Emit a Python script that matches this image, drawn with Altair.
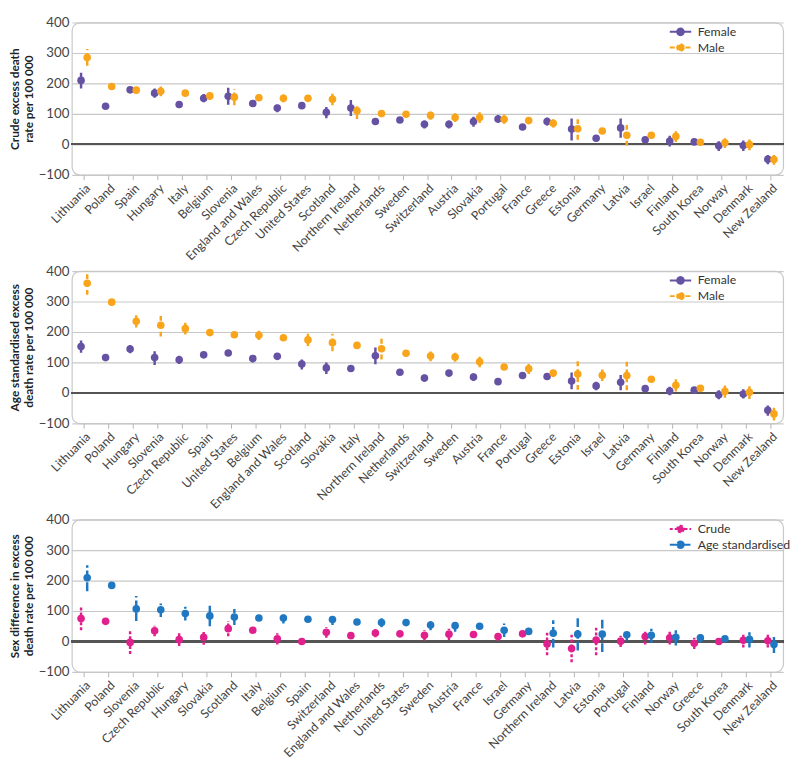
import math
import altair as alt
import pandas as pd

# ---------------- Panel 1: crude excess death rate ----------------
P1_COUNTRIES = ["Lithuania", "Poland", "Spain", "Hungary", "Italy", "Belgium", "Slovenia",
                "England and Wales", "Czech Republic", "United States", "Scotland",
                "Northern Ireland", "Netherlands", "Sweden", "Switzerland", "Austria",
                "Slovakia", "Portugal", "France", "Greece", "Estonia", "Germany", "Latvia",
                "Israel", "Finland", "South Korea", "Norway", "Denmark", "New Zealand"]
P1_FEMALE = [210, 125, 179, 168, 131, 151, 158, 134, 119, 127, 105, 119, 75, 80, 66, 66, 75, 83, 57, 75, 50, 20, 54, 15, 11, 8, -5, -4, -49]
P1_FEMALE_LO = [183, 121, 175, 153, 127, 138, 130, 130, 105, 123, 86, 93, 71, 70, 52, 52, 58, 71, 53, 62, 13, 16, 22, 6, -7, 4, -22, -22, -65]
P1_FEMALE_HI = [235, 129, 183, 183, 135, 165, 186, 138, 130, 131, 123, 146, 79, 90, 78, 78, 91, 96, 61, 88, 85, 24, 85, 23, 28, 12, 10, 13, -35]
P1_MALE = [285, 190, 178, 174, 168, 159, 155, 153, 151, 151, 148, 110, 101, 99, 95, 88, 88, 82, 78, 69, 51, 44, 30, 30, 26, 7, 5, -1, -50]
P1_MALE_LO = [258, 186, 174, 158, 164, 146, 128, 149, 138, 147, 128, 83, 95, 90, 81, 73, 70, 68, 74, 55, 15, 40, -4, 20, 8, 3, -12, -19, -67]
P1_MALE_HI = [313, 194, 182, 190, 172, 172, 182, 157, 165, 155, 166, 135, 107, 108, 108, 102, 105, 98, 82, 83, 88, 48, 65, 40, 43, 11, 20, 16, -35]

# ---------------- Panel 2: age standardised excess death rate ----------------
P2_COUNTRIES = ["Lithuania", "Poland", "Hungary", "Slovenia", "Czech Republic", "Spain",
                "United States", "Belgium", "England and Wales", "Scotland", "Slovakia",
                "Italy", "Northern Ireland", "Netherlands", "Switzerland", "Sweden", "Austria",
                "France", "Portugal", "Greece", "Estonia", "Israel", "Latvia", "Germany",
                "Finland", "South Korea", "Norway", "Denmark", "New Zealand"]
P2_FEMALE = [152, 116, 144, 116, 109, 125, 131, 113, 120, 95, 82, 80, 122, 68, 49, 65, 52, 37, 57, 54, 39, 23, 35, 14, 6, 9, -6, -4, -57]
P2_FEMALE_LO = [132, 112, 130, 92, 95, 121, 127, 100, 116, 77, 62, 76, 94, 64, 37, 54, 39, 33, 47, 44, 12, 9, 9, 10, -8, 5, -21, -18, -75]
P2_FEMALE_HI = [172, 120, 157, 137, 122, 129, 135, 124, 124, 110, 100, 84, 149, 72, 60, 75, 64, 41, 67, 64, 67, 37, 59, 18, 20, 13, 9, 12, -41]
P2_MALE = [360, 298, 235, 222, 211, 198, 191, 189, 181, 174, 165, 156, 145, 130, 121, 118, 102, 85, 79, 65, 62, 58, 57, 45, 25, 15, 5, 2, -69]
P2_MALE_LO = [322, 287, 215, 185, 192, 194, 187, 174, 177, 154, 137, 152, 110, 120, 104, 102, 84, 81, 62, 52, 10, 39, 9, 41, 5, 9, -16, -20, -91]
P2_MALE_HI = [400, 309, 255, 257, 230, 202, 195, 204, 185, 194, 194, 160, 182, 140, 136, 132, 119, 89, 95, 77, 112, 77, 104, 49, 45, 21, 24, 22, -48]

# ---------------- Panel 3: sex difference ----------------
P3_COUNTRIES = ["Lithuania", "Poland", "Slovenia", "Czech Republic", "Hungary", "Slovakia",
                "Scotland", "Italy", "Belgium", "Spain", "Switzerland", "England and Wales",
                "Netherlands", "United States", "Sweden", "Austria", "France", "Israel",
                "Germany", "Northern Ireland", "Latvia", "Estonia", "Portugal", "Finland",
                "Norway", "Greece", "South Korea", "Denmark", "New Zealand"]
P3_CRUDE = [75, 66, -3, 35, 6, 14, 42, 37, 9, 0, 30, 19, 28, 25, 20, 24, 23, 16, 25, -8, -23, 5, 1, 16, 12, -6, 0, 4, 2]
P3_CRUDE_LO = [37, 58, -41, 17, -15, -11, 17, 33, -10, -4, 12, 15, 14, 21, 2, 5, 19, 2, 21, -45, -68, -45, -18, -10, -10, -25, -4, -20, -20]
P3_CRUDE_HI = [114, 74, 37, 52, 27, 37, 67, 41, 27, 4, 47, 23, 42, 29, 37, 42, 27, 29, 29, 29, 24, 52, 19, 37, 32, 12, 4, 25, 22]
P3_AGE = [209, 184, 107, 104, 92, 84, 80, 77, 77, 73, 72, 64, 62, 62, 54, 52, 50, 37, 33, 27, 24, 24, 22, 20, 14, 12, 9, 7, -10]
P3_AGE_LO = [165, 174, 67, 80, 69, 50, 54, 73, 59, 69, 54, 60, 47, 58, 37, 32, 46, 15, 29, -20, -30, -35, 2, -5, -13, -5, 4, -20, -38]
P3_AGE_HI = [250, 193, 149, 125, 114, 117, 107, 81, 94, 77, 90, 68, 77, 66, 72, 70, 54, 59, 37, 70, 77, 79, 39, 42, 37, 27, 14, 30, 15]

PURPLE, ORANGE, PINK, BLUE = "#6652a3", "#f9a51b", "#e0208c", "#1f78c1"
FONT = "Lato"

# legend glyph: a short line with a dot in the middle (dot drawn as a polygon)
_pts = [(0.45 * math.cos(2 * math.pi * k / 16), 0.45 * math.sin(2 * math.pi * k / 16))
        for k in range(16)]
LEGEND_PATH = "M-1.45,0L1.45,0M" + "L".join(f"{px:.3f},{py:.3f}" for px, py in _pts) + "Z"

PLOT_W, PLOT_H = 724, 155


def make_df(countries, a_name, a_val, a_lo, a_hi, b_name, b_val, b_lo, b_hi):
    rows = []
    for i, c in enumerate(countries):
        rows.append(dict(country=c, series=a_name, value=a_val[i], lo=a_lo[i], hi=a_hi[i]))
        rows.append(dict(country=c, series=b_name, value=b_val[i], lo=b_lo[i], hi=b_hi[i]))
    return pd.DataFrame(rows)


def panel(df, countries, names, colors, dashes, title):
    x = alt.X("country:N", sort=countries,
              scale=alt.Scale(domain=countries, paddingInner=0, paddingOuter=0),
              axis=alt.Axis(title=None, labelAngle=-45, grid=False, ticks=True, tickSize=5,
                            tickColor="#b5b5b5", labelPadding=2, labelFontSize=12.5))
    xo = alt.XOffset("series:N",
                     scale=alt.Scale(domain=names, paddingInner=0, paddingOuter=1))
    yscale = alt.Scale(domain=[-100, 400], nice=False, zero=False)
    yaxis = alt.Axis(title=title, values=[-100, 0, 100, 200, 300, 400], grid=True,
                     ticks=False, labelPadding=3, labelFontSize=13.5,
                     titleFontWeight="bold", titleFontSize=12, titleColor="#222",
                     titlePadding=3, titleLineHeight=14)
    cscale = alt.Scale(domain=names, range=colors)
    dscale = alt.Scale(domain=names, range=dashes)

    fill_expr = f"datum.value === '{names[0]}' ? '{colors[0]}' : '{colors[1]}'"
    legend_kw = dict(title=None, orient="none", legendX=PLOT_W - 113, legendY=1,
                     symbolType=LEGEND_PATH, symbolSize=225, symbolStrokeWidth=2,
                     symbolFillColor={"expr": fill_expr}, symbolOpacity=1,
                     labelFontSize=12.5, labelColor="#333", labelOffset=9,
                     rowPadding=0, padding=0)

    base = alt.Chart(df)
    zero = base.mark_rule(color="#555555", strokeWidth=1.5).encode(
        y=alt.YDatum(0, type="quantitative", scale=yscale, axis=yaxis))
    bars = base.mark_rule(strokeWidth=2.5).encode(
        x=x, xOffset=xo,
        y=alt.Y("lo:Q", scale=yscale, axis=yaxis),
        y2="hi:Q",
        color=alt.Color("series:N", scale=cscale, legend=alt.Legend(**legend_kw)),
        strokeDash=alt.StrokeDash("series:N", scale=dscale, legend=alt.Legend(**legend_kw)))
    pts = base.mark_circle(size=60, opacity=1).encode(
        x=x, xOffset=xo,
        y=alt.Y("value:Q", scale=yscale, axis=yaxis),
        color=alt.Color("series:N", scale=cscale, legend=None))
    return alt.layer(zero, bars, pts).properties(width=PLOT_W, height=PLOT_H)


df1 = make_df(P1_COUNTRIES, "Female", P1_FEMALE, P1_FEMALE_LO, P1_FEMALE_HI,
              "Male", P1_MALE, P1_MALE_LO, P1_MALE_HI)
df2 = make_df(P2_COUNTRIES, "Female", P2_FEMALE, P2_FEMALE_LO, P2_FEMALE_HI,
              "Male", P2_MALE, P2_MALE_LO, P2_MALE_HI)
df3 = make_df(P3_COUNTRIES, "Crude", P3_CRUDE, P3_CRUDE_LO, P3_CRUDE_HI,
              "Age standardised", P3_AGE, P3_AGE_LO, P3_AGE_HI)

c1 = panel(df1, P1_COUNTRIES, ["Female", "Male"], [PURPLE, ORANGE], [[1, 0], [5, 3]],
           ["Crude excess death", "rate per 100 000"])
c2 = panel(df2, P2_COUNTRIES, ["Female", "Male"], [PURPLE, ORANGE], [[1, 0], [5, 3]],
           ["Age standardised excess", "death rate per 100 000"])
c3 = panel(df3, P3_COUNTRIES, ["Crude", "Age standardised"], [PINK, BLUE], [[3, 2], [9, 3]],
           ["Sex difference in excess", "death rate per 100 000"])

chart = (
    alt.vconcat(c1, c2, c3, spacing=0)
    .resolve_scale(x="independent", xOffset="independent", color="independent",
                   strokeDash="independent")
    .resolve_legend(color="independent", strokeDash="independent")
    .properties(padding={"left": 0, "right": 0, "top": 0, "bottom": 0})
    .configure(font=FONT)
    .configure_view(stroke="#c8c8c8", strokeWidth=1.2, cornerRadius=8)
    .configure_axis(labelFont=FONT, titleFont=FONT, labelColor="#444", domain=False,
                    gridColor="#c8c8c8", gridWidth=1.2)
    .configure_legend(labelFont=FONT)
)

chart.save("out.html", embed_options={"renderer": "svg", "actions": False})
